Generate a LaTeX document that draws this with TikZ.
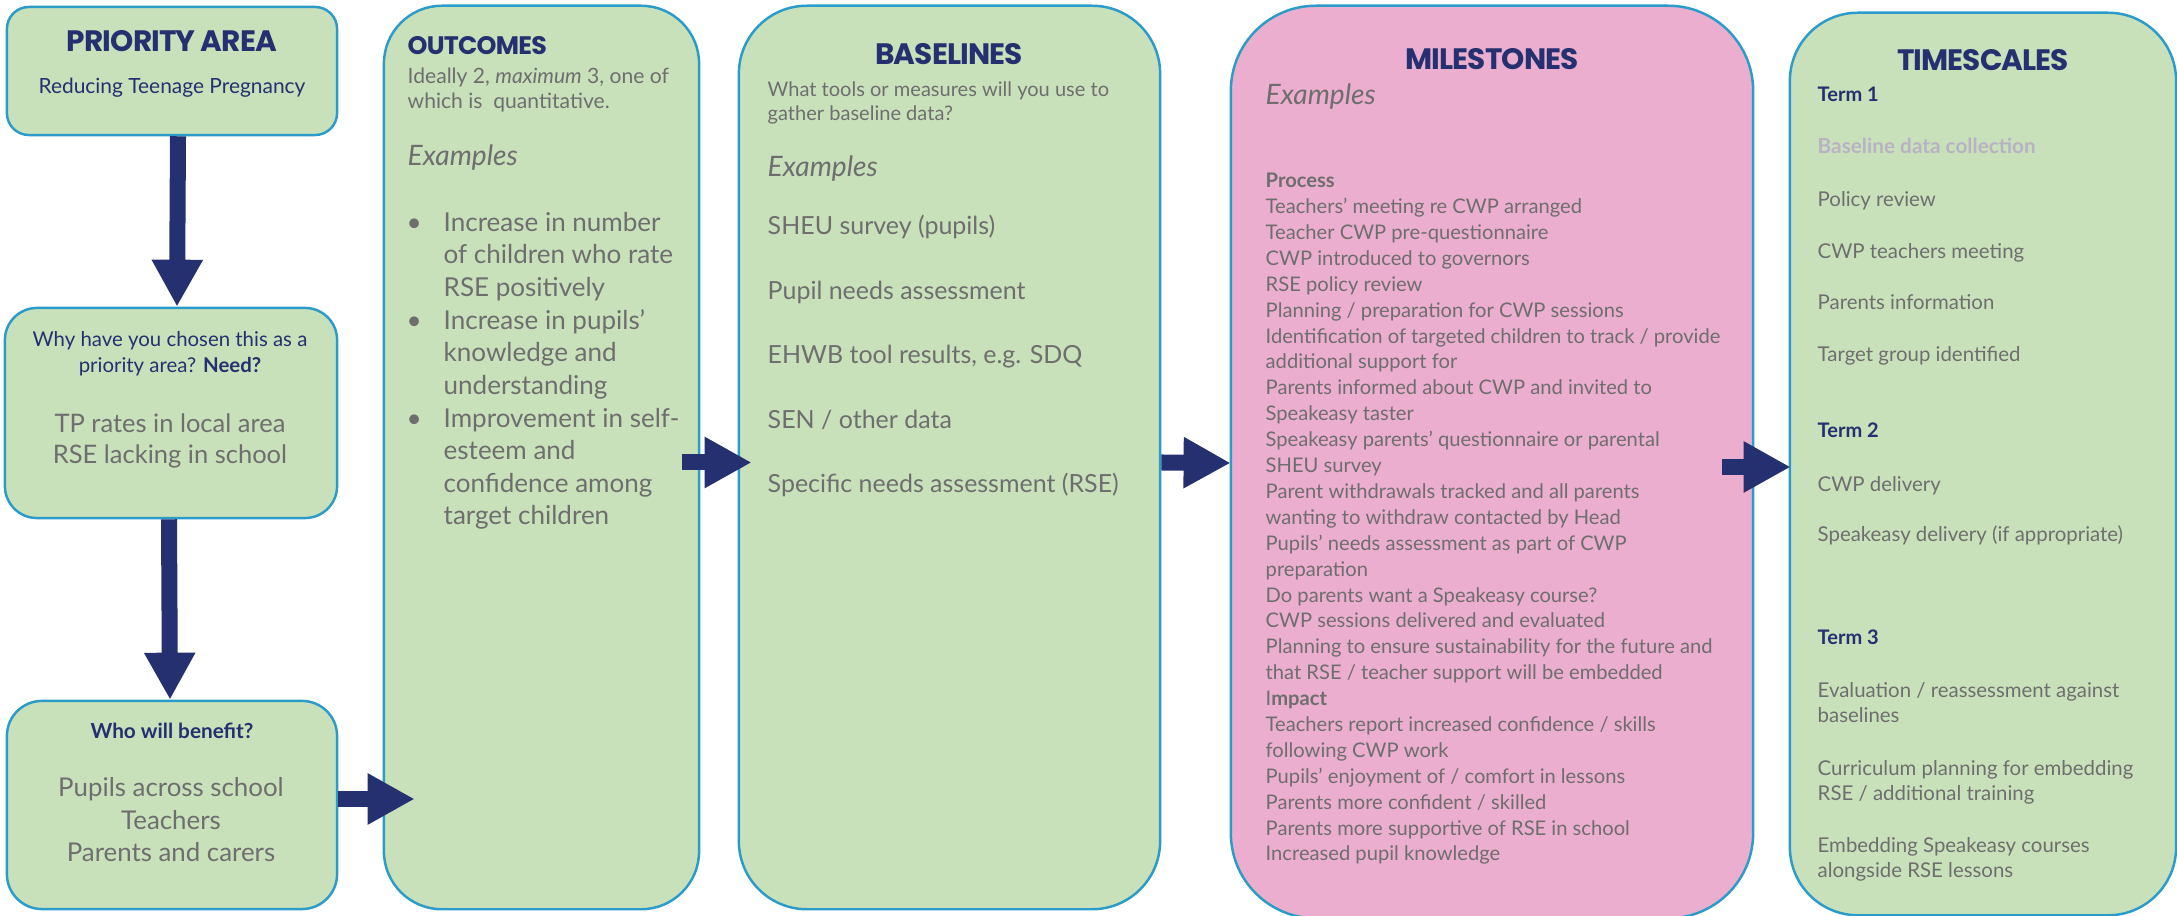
\documentclass[tikz,border=0pt]{standalone}
\usepackage{fontspec}
\setmainfont{Lato}
\newfontfamily\headfont{Poppins}[LetterSpace=-3]
\usetikzlibrary{arrows.meta,calc,positioning}

\definecolor{boxgreen}{HTML}{C9E1BA}
\definecolor{boxpink}{HTML}{ECAECE}
\definecolor{edgeblue}{HTML}{2B9BC9}
\definecolor{navy}{HTML}{24306F}
\definecolor{greytext}{HTML}{6E6E6E}
\definecolor{fadetext}{HTML}{B8B2C4}

\newcommand\setfs[2]{\fontsize{#1}{#2}\selectfont}

\tikzset{
  panel/.style={draw=edgeblue, line width=0.7pt, fill=boxgreen, inner sep=0pt},
  heading/.style={font=\headfont\bfseries\setfs{8.4}{10}, text=navy, anchor=base, inner sep=0pt},
  bodytext/.style={text=greytext, anchor=base west, align=left, inner sep=0pt},
  navytext/.style={text=navy, anchor=base, align=center, inner sep=0pt},
  bigarrow/.style={draw=navy, line width=0.16cm, -{Triangle[width=0.48cm,length=0.47cm]}},
}

\begin{document}
\begin{tikzpicture}[x=0.01cm, y=-0.01cm]
  \useasboundingbox (0,0) rectangle (2177,916);

  \node[panel, rounded corners=0.22cm, minimum width=3.30cm, minimum height=1.28cm] (priority) at (172,71) {};
  \node[panel, rounded corners=0.32cm, minimum width=3.32cm, minimum height=2.10cm] (need) at (171,413) {};
  \node[panel, rounded corners=0.35cm, minimum width=3.30cm, minimum height=2.08cm] (benefit) at (172,805) {};
  \node[panel, rounded corners=0.58cm, minimum width=3.15cm, minimum height=9.03cm] (outcomes) at (541.5,457.5) {};
  \node[panel, rounded corners=0.68cm, minimum width=4.21cm, minimum height=9.03cm] (baselines) at (949.5,457.5) {};
  \node[panel, fill=boxpink, rounded corners=0.85cm, minimum width=5.22cm, minimum height=9.12cm] (milestones) at (1492,462) {};
  \node[panel, rounded corners=0.68cm, minimum width=3.86cm, minimum height=9.02cm] (timescales) at (1983,464) {};

  \draw[bigarrow] ([xshift=0.06cm]priority.south) -- ([xshift=0.06cm]need.north);
  \draw[bigarrow] ([xshift=-0.02cm]need.south) -- ([xshift=-0.02cm]benefit.north);
  \draw[bigarrow] ($(benefit.east)+(0,-6)$) -- ($(benefit.east -| outcomes.west)+(32,-6)$);
  \draw[bigarrow] ($(outcomes.east)+(-18,5)$) -- ($(baselines.west)+(14,5)$);
  \draw[bigarrow] ($(baselines.east)+(0,5)$) -- ($(milestones.west)+(1,1)$);
  \draw[bigarrow] ($(milestones.east)+(-32,5)$) -- ($(timescales.west)+(2,3)$);

  \node[heading] (prioritytitle) at (172,52) {PRIORITY AREA};
  \node[navytext, font=\setfs{5.95}{7.4}] (prioritytext) at (172,94) {Reducing Teenage Pregnancy};

  \node[navytext, font=\setfs{5.8}{7.4}] (needask) at (170,373) {Why have you chosen this as a\\priority area? \textbf{Need?}};
  \node[navytext, text=greytext, font=\setfs{7.25}{8.82}] (needtext) at (170,464) {TP rates in local area\\RSE lacking in school};

  \node[navytext, font=\bfseries\setfs{5.9}{7}] (benefitask) at (172,739) {Who will benefit?};
  \node[navytext, text=greytext, font=\setfs{7.35}{9.25}] (benefittext) at (171,862) {Pupils across school\\Teachers\\Parents and carers};

  \node[heading, anchor=base west, font=\headfont\bfseries\setfs{7.2}{9}] (outcomestitle) at (407,55) {OUTCOMES};
  \node[bodytext, font=\setfs{6.0}{7.11}] (outcomesnote) at (407,109) {Ideally 2, \textit{maximum} 3, one of\\which is\ \ quantitative.};
  \node[bodytext, font=\itshape\setfs{8}{9}] (outcomesex) at (407,166) {Examples};
  \node[bodytext, font=\setfs{7.4}{9.28}] (outcomeslist) at (443,525) {\llap{\textbullet\hspace{0.22cm}}Increase in number\\of children who rate\\RSE positively\\\llap{\textbullet\hspace{0.22cm}}Increase in pupils’\\knowledge and\\understanding\\\llap{\textbullet\hspace{0.22cm}}Improvement in self-\\esteem and\\confidence among\\target children};

  \node[heading] (baselinestitle) at (949,65) {BASELINES};
  \node[bodytext, font=\setfs{5.7}{6.83}] (baselinesnote) at (767,121) {What tools or measures will you use to\\gather baseline data?};
  \node[bodytext, font=\itshape\setfs{8}{9}] (baselinesex) at (767,177) {Examples};
  \node[bodytext, font=\setfs{7.1}{18.35}] (baselineslist) at (767,493) {SHEU survey (pupils)\\Pupil needs assessment\\EHWB tool results, e.g. SDQ\\SEN / other data\\Specific needs assessment (RSE)};

  \node[heading] (milestonestitle) at (1492,70) {MILESTONES};
  \node[bodytext, font=\itshape\setfs{8}{9}] (milestonesex) at (1265,105) {Examples};
  \node[bodytext, font=\setfs{5.73}{7.364}] (milestoneslist) at (1265,861) {\textbf{Process}\\Teachers’ meeting re CWP arranged\\Teacher CWP pre-questionnaire\\CWP introduced to governors\\RSE policy review\\Planning / preparation for CWP sessions\\Identification of targeted children to track / provide\\additional support for\\Parents informed about CWP and invited to\\Speakeasy taster\\Speakeasy parents’ questionnaire or parental\\SHEU survey\\Parent withdrawals tracked and all parents\\wanting to withdraw contacted by Head\\Pupils’ needs assessment as part of CWP\\preparation\\Do parents want a Speakeasy course?\\CWP sessions delivered and evaluated\\Planning to ensure sustainability for the future and\\that RSE / teacher support will be embedded\\I\textbf{mpact}\\Teachers report increased confidence / skills\\following CWP work\\Pupils’ enjoyment of / comfort in lessons\\Parents more confident / skilled\\Parents more supportive of RSE in school\\Increased pupil knowledge};

  \node[heading] (timescalestitle) at (1983,71) {TIMESCALES};
  \node[bodytext, text=navy, font=\bfseries\setfs{5.7}{7}] (termone) at (1817,102) {Term 1};
  \node[bodytext, text=fadetext, font=\bfseries\setfs{5.9}{7}] (baselinedata) at (1817,154) {Baseline data collection};
  \node[bodytext, font=\setfs{5.8}{14.65}] (termonelist) at (1817,361.5) {Policy review\\CWP teachers meeting\\Parents information\\Target group identified};
  \node[bodytext, text=navy, font=\bfseries\setfs{5.7}{7}] (termtwo) at (1817,438) {Term 2};
  \node[bodytext, font=\setfs{5.8}{14.5}] (termtwolist) at (1817,542) {CWP delivery\\Speakeasy delivery (if appropriate)};
  \node[bodytext, text=navy, font=\bfseries\setfs{5.7}{7}] (termthree) at (1817,645) {Term 3};
  \node[bodytext, font=\setfs{5.8}{7.26}] (evaluation) at (1817,723) {Evaluation / reassessment against\\baselines};
  \node[bodytext, font=\setfs{5.8}{7.26}] (curriculum) at (1817,801) {Curriculum planning for embedding\\RSE / additional training};
  \node[bodytext, font=\setfs{5.8}{7.26}] (embedding) at (1817,878) {Embedding Speakeasy courses\\alongside RSE lessons};
\end{tikzpicture}
\end{document}
